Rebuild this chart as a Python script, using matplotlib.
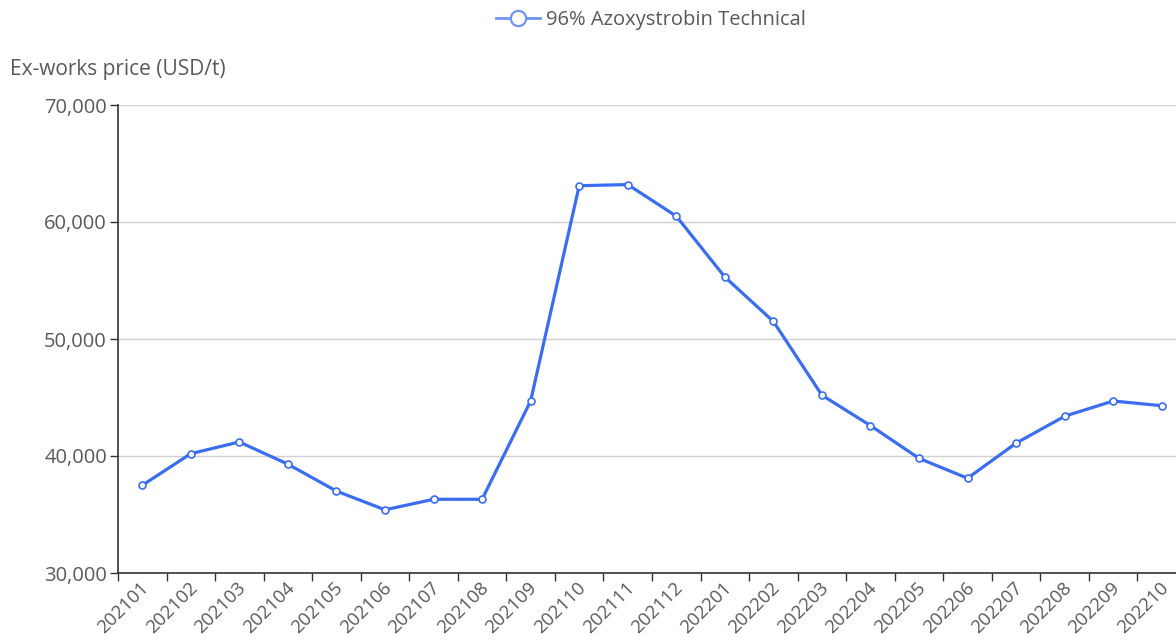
"""
96% Azoxystrobin Technical ex-works price, monthly line chart
"""
import numpy as np
import matplotlib
matplotlib.use('Agg')
import matplotlib.pyplot as plt
from matplotlib.lines import Line2D
from matplotlib.ticker import FuncFormatter, FixedLocator

matplotlib.rcParams['font.family'] = ['Open Sans', 'DejaVu Sans']
matplotlib.rcParams['font.size'] = 14

# 数据
months = ['202101', '202102', '202103', '202104', '202105', '202106',
          '202107', '202108', '202109', '202110', '202111', '202112',
          '202201', '202202', '202203', '202204', '202205', '202206',
          '202207', '202208', '202209', '202210']
prices = [37500, 40200, 41200, 39300, 37000, 35400,
          36300, 36300, 44700, 63100, 63200, 60500,
          55300, 51500, 45200, 42600, 39800, 38100,
          41100, 43400, 44700, 44300]
series_name = '96% Azoxystrobin Technical'
y_label = 'Ex-works price (USD/t)'
y_ticks = [30000, 40000, 50000, 60000, 70000]

LINE_COLOR = '#3a6df0'
TEXT_COLOR = '#595959'
AXIS_COLOR = '#333333'
FS = 14.5

fig = plt.figure(figsize=(11.76, 6.4), dpi=100)
W, H = 1176, 640
# 轴区域（右侧超出画布，与原图裁切一致）
left, right, top, bottom = 118, 1186, 105, 573
ax = fig.add_axes([left / W, 1 - bottom / H, (right - left) / W, (bottom - top) / H])

x = np.arange(len(months))
ax.plot(x, prices, color=LINE_COLOR, lw=2.3, marker='o', markersize=5,
        markerfacecolor='white', markeredgecolor=LINE_COLOR, markeredgewidth=1.2,
        zorder=3, clip_on=False)

ax.set_xlim(-0.5, len(months) - 0.5)
ax.set_ylim(30000, 70000)

# y 轴
ax.yaxis.set_major_locator(FixedLocator(y_ticks))
ax.yaxis.set_major_formatter(FuncFormatter(lambda v, p: f'{int(v):,}'))
ax.grid(axis='y', color='#d0d0d0', lw=1.0, zorder=0)
ax.tick_params(axis='y', length=6, width=1, color=AXIS_COLOR, labelsize=FS,
               labelcolor=TEXT_COLOR, pad=2)

# x 轴：刻度在类目边界，标签在类目中心
ax.set_xticks(np.arange(len(months) + 1) - 0.5)
ax.set_xticklabels([])
ax.tick_params(axis='x', length=6, width=1, color=AXIS_COLOR)
ax.set_xticks(x + 0.08, minor=True)
ax.set_xticklabels(months, minor=True, rotation=45, ha='right', va='center',
                   rotation_mode='anchor', color=TEXT_COLOR, fontsize=13.5)
ax.tick_params(axis='x', which='minor', length=0, pad=9)

for side in ['top', 'right']:
    ax.spines[side].set_visible(False)
for side in ['left', 'bottom']:
    ax.spines[side].set_color(AXIS_COLOR)
    ax.spines[side].set_linewidth(1.2)

fig.text(10 / W, 1 - 70 / H, y_label, ha='left', va='center',
         color=TEXT_COLOR, fontsize=FS + 0.5)

# 图例
handle = Line2D([], [], color='#6f94f5', lw=2, marker='o', markersize=11,
                markerfacecolor='white', markeredgecolor='#6f94f5', markeredgewidth=1.6)
fig.legend([handle], [series_name], loc='center', bbox_to_anchor=(651 / W, 1 - 20 / H),
           frameon=False, fontsize=FS, labelcolor=TEXT_COLOR, handlelength=2.2,
           handletextpad=0.3, borderpad=0)

fig.savefig('out.png', dpi=100)
plt.close(fig)
